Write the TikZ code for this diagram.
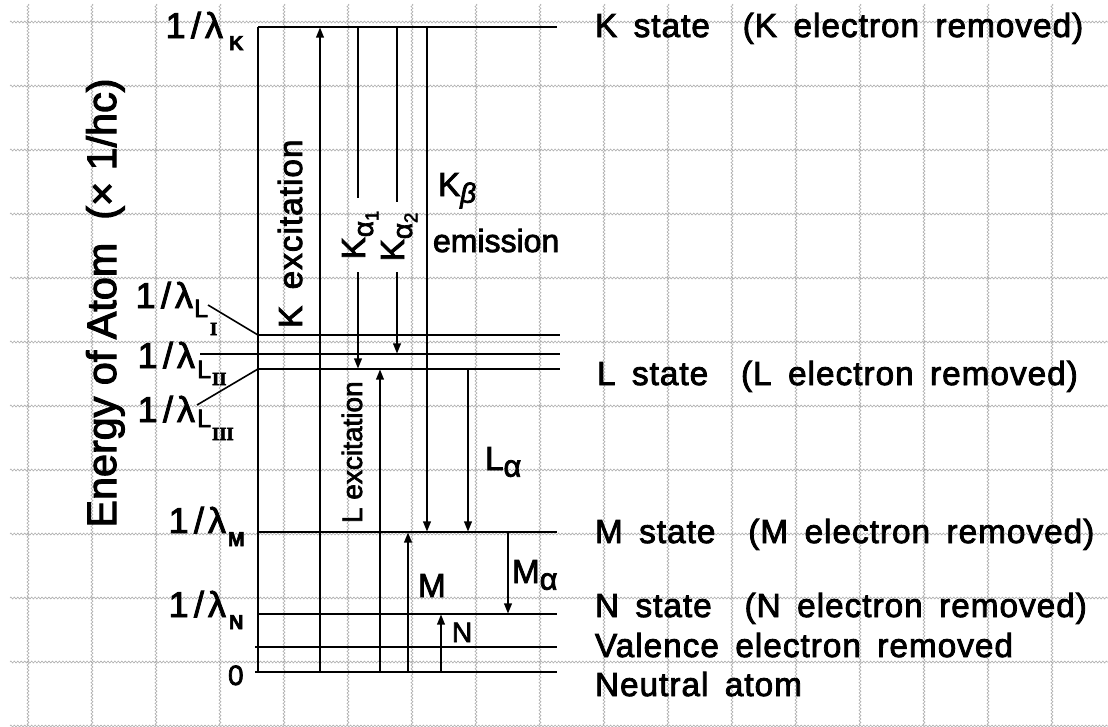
\documentclass[tikz,border=0pt]{standalone}
\usepackage{fontspec}
\setmainfont{Liberation Sans}
\newfontfamily\plainfont[FakeBold=2.5]{Liberation Sans}
\newfontfamily\labfont[LetterSpace=3,WordSpace=1.6,FakeBold=2.5]{Liberation Sans}
\newfontfamily\subfont[FakeBold=3]{Liberation Sans Bold}
\newfontfamily\romfont[FakeBold=3]{Liberation Serif Bold}
\usetikzlibrary{arrows.meta,decorations.pathmorphing}
\newcommand{\fs}[1]{\fontsize{#1}{#1}\selectfont}
\begin{document}
\begin{tikzpicture}[x=0.75pt,y=-0.75pt,
  every node/.style={inner sep=0pt,outer sep=0pt},
  gridline/.style={draw=black!32,line width=0.45pt,decorate,decoration={zigzag,amplitude=0.75pt,segment length=2.6pt}},
  level/.style={line width=2pt},
  plain/.style={line width=2pt},
  arr/.style={line width=2pt,-{Triangle[length=8pt,width=5.5pt]}},
  leader/.style={line width=1.2pt},
  statelab/.style={anchor=base west,font=\labfont\fs{25}},
  lamlab/.style={anchor=base east,font=\labfont\fs{27}},
  subb/.style={anchor=base west,font=\subfont\fs{15}},
  lsub/.style={anchor=base west,font=\plainfont\fs{19}},
  romsub/.style={anchor=base west,font=\romfont\fs{14}},
  trlab/.style={font=\labfont\fs{25}}]
\useasboundingbox (0,0) rectangle (1108,726);
\fill[white] (0,0) rectangle (1108,726);
% grid
\foreach \gx in {0,...,16} \draw[gridline] ({28+64*\gx},4) -- ({28+64*\gx},726);
\foreach \gy in {0,...,11} \draw[gridline] (10,{22+64*\gy}) -- (1108,{22+64*\gy});

% level coordinates
\coordinate (K0) at (258,27);   \coordinate (K1) at (557,27);
\coordinate (L10) at (258,335); \coordinate (L11) at (560,335);
\coordinate (L20) at (200,354); \coordinate (L21) at (560,354);
\coordinate (L30) at (258,369); \coordinate (L31) at (560,369);
\coordinate (M0) at (258,532);  \coordinate (M1) at (557,532);
\coordinate (N0) at (258,614);  \coordinate (N1) at (557,614);
\coordinate (V0) at (255,647);  \coordinate (V1) at (557,647);
\coordinate (O0) at (255,672);  \coordinate (O1) at (557,672);
\coordinate (Ax) at (258,672);

\draw[level] (K0) -- (K1);
\draw[level] (L10) -- (L11);
\draw[level] (L20) -- (L21);
\draw[level] (L30) -- (L31);
\draw[level] (M0) -- (M1);
\draw[level] (N0) -- (N1);
\draw[level] (V0) -- (V1);
\draw[level] (O0) -- (O1);
\draw[level] (K0) -- (Ax);

% arrow x positions
\coordinate (xKex) at (320,0);
\coordinate (xKa1) at (358,0);
\coordinate (xLex) at (380,0);
\coordinate (xKa2) at (397,0);
\coordinate (xMex) at (408,0);
\coordinate (xKb) at (427,0);
\coordinate (xNex) at (441,0);
\coordinate (xLa) at (468,0);
\coordinate (xMa) at (508,0);
\coordinate (ka1t) at (358,198); \coordinate (ka1b) at (358,272);
\coordinate (ka2t) at (397,202); \coordinate (ka2b) at (397,272);

\draw[arr] (xKex |- O0) -- (xKex |- K0);
\draw[plain] (xKa1 |- K0) -- (ka1t);
\draw[arr] (ka1b) -- (xKa1 |- L30);
\draw[plain] (xKa2 |- K0) -- (ka2t);
\draw[arr] (ka2b) -- (xKa2 |- L20);
\draw[arr] (xKb |- K0) -- (xKb |- M0);
\draw[arr] (xLex |- O0) -- (xLex |- L30);
\draw[arr] (xLa |- L30) -- (xLa |- M0);
\draw[arr] (xMex |- O0) -- (xMex |- M0);
\draw[arr] (xMa |- M0) -- (xMa |- N0);
\draw[arr] (xNex |- O0) -- (xNex |- N0);

% leader lines for L sublevels
\coordinate (ld1) at (208,305);
\coordinate (ld3) at (197,405);
\draw[leader] (ld1) -- (L10);
\draw[leader] (ld3) -- (L30);

% left labels
\node[lamlab] (lamK) at (223,38) {1\kern4pt/\kern3pt λ};
\node[subb] (subK) at (229,50) {K};
\node[lamlab] (lamL1) at (193,308) {1\kern4pt/\kern3pt λ};
\node[lsub] (subL1) at (194,317) {L};
\node[romsub] (subL1r) at (210,335) {I};
\node[lamlab] (lamL2) at (195,368) {1\kern4pt/\kern3pt λ};
\node[lsub] (subL2) at (197,378) {L};
\node[romsub] (subL2r) at (212,385) {II};
\node[lamlab] (lamL3) at (195,422) {1\kern4pt/\kern3pt λ};
\node[lsub] (subL3) at (197,427) {L};
\node[romsub] (subL3r) at (212,440) {III};
\node[lamlab] (lamM) at (226,533) {1\kern4pt/\kern3pt λ};
\node[subb] (subM) at (228,546) {M};
\node[lamlab] (lamN) at (226,617) {1\kern4pt/\kern3pt λ};
\node[subb] (subN) at (229,629) {N};
\node[anchor=base west,font=\plainfont\fs{21}] (zero) at (228,685) {0};

% axis label
\node[rotate=90,anchor=base,font=\plainfont\fs{31}] (axis) at (116,303) {Energy of Atom~~(× 1/hc)};

% transition labels
\node[trlab,rotate=90,anchor=base west] (tKex) at (302,328) {K~excitation};
\node[trlab,rotate=90,anchor=base] (tKa1) at (365,235) {K\raisebox{-6pt}{\fs{21}α\raisebox{-4pt}{\fs{14}1}}};
\node[trlab,rotate=90,anchor=base] (tKa2) at (404,237) {K\raisebox{-6pt}{\fs{21}α\raisebox{-4pt}{\fs{14}2}}};
\node[trlab,anchor=base west] (tKb) at (438,196) {K\raisebox{-5pt}{\fs{21}\itshape β}};
\node[anchor=base west,font=\plainfont\fs{24}] (tem) at (433,252) {emission};
\node[rotate=90,anchor=base west,font=\plainfont\fs{21}] (tLex) at (362,523) {L excitation};
\node[trlab,anchor=base west] (tLa) at (485,470) {L\raisebox{-5pt}{\fs{23}α}};
\node[trlab,anchor=base west] (tM) at (418,597) {M};
\node[trlab,anchor=base west] (tMa) at (512,583) {M\raisebox{-5pt}{\fs{23}α}};
\node[anchor=base west,font=\labfont\fs{21}] (tN) at (452,642) {N};

% state labels
\node[statelab] (sK) at (595,37) {K state~~(K electron removed)};
\node[statelab] (sL) at (597,385) {L state~~(L electron removed)};
\node[statelab] (sM) at (595,543) {M state~~(M electron removed)};
\node[statelab] (sN) at (595,617) {N state~~(N electron removed)};
\node[statelab] (sV) at (595,657) {Valence~electron removed};
\node[statelab] (sO) at (595,696) {Neutral atom};
\end{tikzpicture}
\end{document}
